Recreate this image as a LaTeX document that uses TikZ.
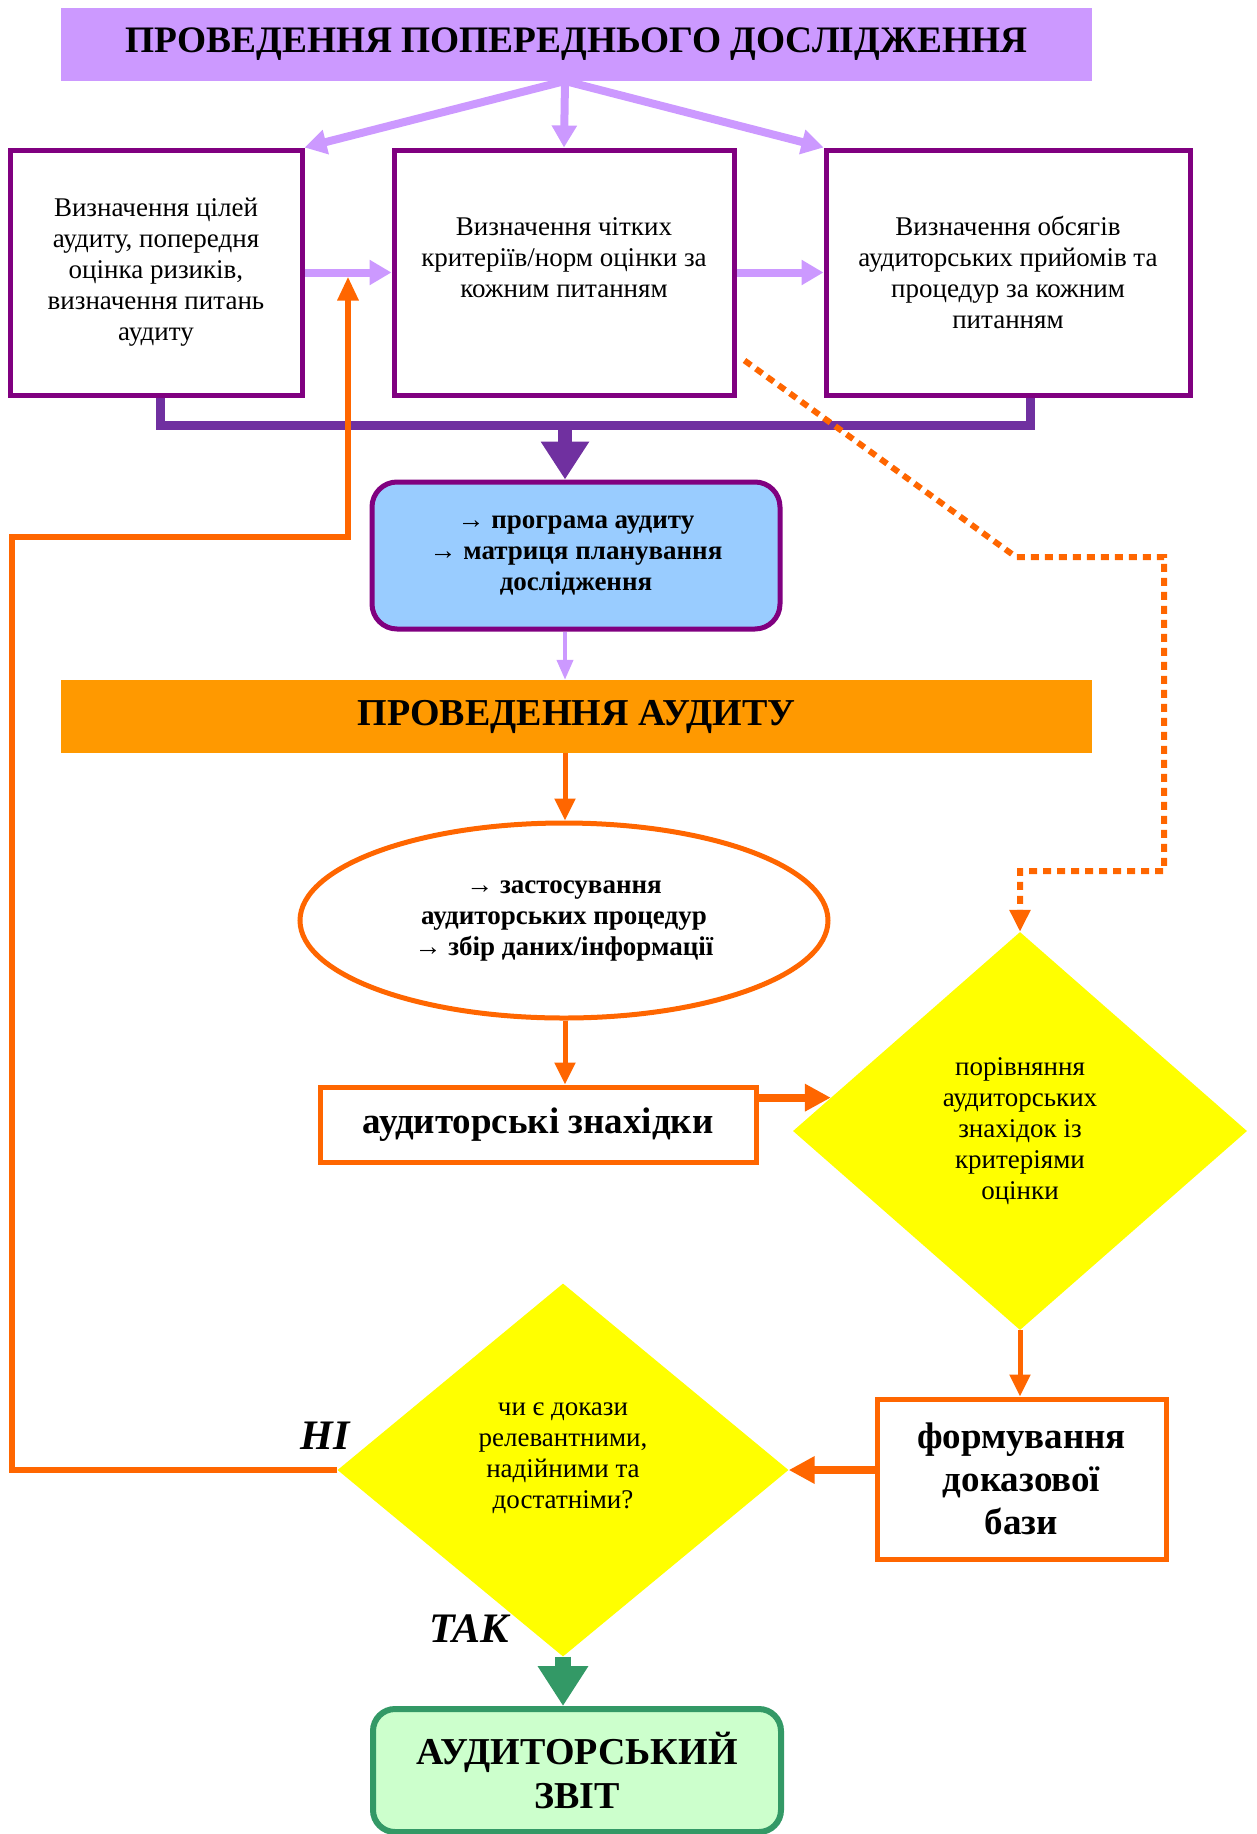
\documentclass[tikz,border=0pt]{standalone}
\usepackage{fontspec}
\setmainfont{Liberation Serif}
\usetikzlibrary{shapes.geometric,arrows.meta}

\definecolor{lilac}{HTML}{CC99FF}
\definecolor{plum}{HTML}{800080}
\definecolor{bracketviolet}{HTML}{7030A0}
\definecolor{skyfill}{HTML}{99CCFF}
\definecolor{bandamber}{HTML}{FF9900}
\definecolor{auditorange}{HTML}{FF6600}
\definecolor{diayellow}{HTML}{FFFF00}
\definecolor{reportgreen}{HTML}{339966}
\definecolor{mintfill}{HTML}{CCFFCC}

\begin{document}
\begin{tikzpicture}[x=1pt,y=-1pt,
    txt/.style={font=\fontsize{27}{31}\selectfont},
    btxt/.style={font=\fontsize{27}{31}\selectfont\bfseries},
    band/.style={minimum width=1031pt,minimum height=73pt,inner sep=0pt,
      font=\fontsize{38}{44}\selectfont\bfseries},
    query/.style={diamond,fill=diayellow,inner sep=0pt,align=center,txt}]

  \useasboundingbox (0,0) rectangle (1256,1834);

  \node[band,fill=lilac,font=\fontsize{37.4}{44}\selectfont\bfseries] (prelim) at (576.5,44.5) {ПРОВЕДЕННЯ ПОПЕРЕДНЬОГО ДОСЛІДЖЕННЯ};

  \begin{scope}[every node/.style={draw=plum,line width=5pt,minimum height=245pt,align=center,txt}]
    \node[minimum width=292pt] (goals)    at (156,272.5)  {Визначення цілей\\аудиту, попередня\\оцінка ризиків,\\визначення питань\\аудиту};
    \node[minimum width=340pt,text depth=30pt] (criteria) at (564,272.5)  {Визначення чітких\\критеріїв/норм оцінки за\\кожним питанням};
    \node[minimum width=364pt] (volume)   at (1008,272.5) {Визначення обсягів\\аудиторських прийомів та\\процедур за кожним\\питанням};
  \end{scope}

  \node[draw=plum,line width=5pt,fill=skyfill,rounded corners=25pt,minimum width=408pt,
    minimum height=147pt,align=center,btxt] (program) at (576,555.5)
    {→ програма аудиту\\→ матриця планування\\дослідження};

  \node[band,fill=bandamber] (audit) at (576.5,716.5) {ПРОВЕДЕННЯ АУДИТУ};

  \begin{scope}[every node/.style={draw=auditorange,line width=5pt,align=center}]
    \node[ellipse,minimum width=528pt,minimum height=195pt,btxt] (procedures) at (564,920.5)
      {→ застосування\\аудиторських процедур\\→ збір даних/інформації};
    \node[minimum width=436pt,minimum height=75pt,font=\fontsize{37}{43}\selectfont\bfseries]
      (findings) at (538,1124.5) {аудиторські знахідки};
    \node[minimum width=289pt,minimum height=160pt,font=\fontsize{37}{43}\selectfont\bfseries]
      (basis) at (1021.5,1479) {формування\\доказової\\бази};
  \end{scope}

  \node[query,minimum width=454pt,minimum height=398pt] (compare) at (1020,1131)
    {порівняння\\аудиторських\\знахідок із\\критеріями\\оцінки};
  \node[query,minimum width=451pt,minimum height=373pt,text depth=29pt] (evidence) at (563,1470)
    {чи є докази\\релевантними,\\надійними та\\достатніми?};

  \node[draw=reportgreen,line width=6pt,fill=mintfill,rounded corners=22pt,minimum width=408pt,
    minimum height=123pt,align=center,font=\fontsize{38}{44}\selectfont\bfseries]
    (report) at (577,1770.5) {АУДИТОРСЬКИЙ\\ЗВІТ};

  \begin{scope}[every node/.style={font=\fontsize{42}{48}\selectfont\bfseries\itshape}]
    \node (no)  at (325,1436) {НІ};
    \node (yes) at (469,1629) {ТАК};
  \end{scope}

  \coordinate (hub)  at (565,81);
  \coordinate (axis) at (565,0);
  \coordinate (bl)   at (160,425);
  \coordinate (br)   at (1030,425);
  \coordinate (loop) at (12,537);
  \coordinate (up)   at (348,0);
  \coordinate (kink) at (1016,557);
  \coordinate (turn) at (1164,871);

  \begin{scope}[every edge/.style={draw=lilac,line width=8pt,-{Triangle[length=22pt,width=24pt]}}]
    \path (hub) edge (goals.north east)
          (hub) edge (criteria.north)
          (hub) edge (volume.north west)
          (goals.east) edge (criteria.west)
          (criteria.east) edge (volume.west);
  \end{scope}
  \draw[lilac,line width=4pt,-{Triangle[length=20pt,width=16pt]}]
    (program.south -| axis) -- (audit.north -| axis);

  \draw[bracketviolet,line width=9pt] (goals.south -| bl) -- (bl) -- (br) -- (volume.south -| br);
  \draw[bracketviolet,line width=14pt,-{Triangle[length=38pt,width=46pt]}]
    (bl -| axis) -- (program.north -| axis);

  \begin{scope}[auditorange,line width=5pt,-{Triangle[length=22pt,width=20pt]}]
    \draw (audit.south -| axis) -- (procedures.north -| axis);
    \draw (procedures.south -| axis) -- (findings.north -| axis);
    \draw (compare.south) -- (compare.south |- basis.north);
  \end{scope}
  \begin{scope}[auditorange,line width=8pt,-{Triangle[length=26pt,width=26pt]}]
    \draw (findings.east |- compare.170) -- (compare.170);
    \draw (basis.west |- evidence.east) -- (evidence.east);
  \end{scope}

  \draw[auditorange,line width=6pt,shorten >=4pt,-{Triangle[length=24pt,width=20pt]}]
    (evidence.west) -| (loop) -| (up |- goals.east);
  \draw[auditorange,line width=6pt,dash pattern=on 8pt off 6pt,-{Triangle[length=22pt,width=20pt]}]
    ([xshift=8pt,yshift=37pt]criteria.south east) -- (kink) -| (turn) -| (compare.north);

  \draw[reportgreen,line width=16pt,-{Triangle[length=40pt,width=48pt]}]
    (evidence.south) -- (report.north -| evidence.south);

\end{tikzpicture}
\end{document}
